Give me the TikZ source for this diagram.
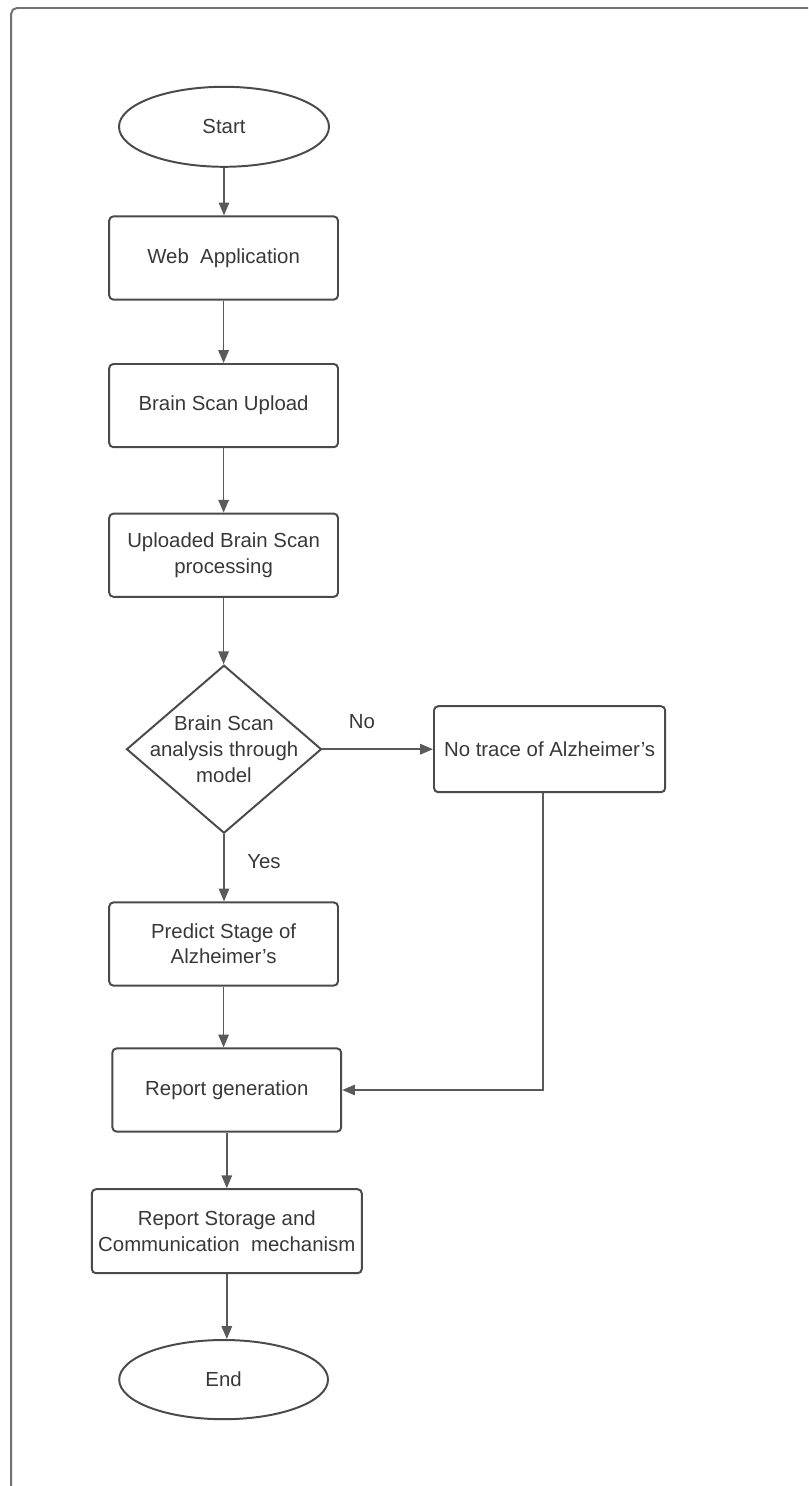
\documentclass[tikz,border=0pt]{standalone}
\usepackage{fontspec}
\setmainfont{Liberation Sans}
\usepackage{tikz}
\usetikzlibrary{shapes.geometric, arrows.meta, positioning, calc}
\definecolor{framegray}{HTML}{717171}
\definecolor{edgegray}{HTML}{4A4A4A}
\definecolor{linkgray}{HTML}{5A5A5A}
\definecolor{inkgray}{HTML}{383838}

\tikzset{
  flowbox/.style={draw=edgegray, line width=1.4pt, rounded corners=3pt, minimum width=5.72cm, minimum height=2.08cm, align=center, text=inkgray, font=\fontsize{14.5}{18}\selectfont},
  terminal/.style={ellipse, draw=edgegray, line width=1.4pt, minimum width=5.25cm, minimum height=2cm, text=inkgray, font=\fontsize{14.5}{18}\selectfont},
  decision/.style={diamond, draw=edgegray, line width=1.4pt, minimum width=4.875cm, minimum height=4.2cm, inner sep=0pt},
  decisiontext/.style={align=center, text=inkgray, font=\fontsize{14.5}{18.5}\selectfont},
  branch/.style={text=inkgray, font=\fontsize{14.5}{17}\selectfont},
  flow/.style={linkgray, line width=1.2pt, -{Triangle[length=0.32cm, width=0.26cm]}}
}

\begin{document}
\begin{tikzpicture}
  \useasboundingbox (0,0) rectangle (20.2,-37.15);

  % outer frame, runs off the right and bottom edge
  \begin{scope}
    \clip (0,0) rectangle (20.2,-37.15);
    \draw[framegray, line width=1.4pt, rounded corners=4pt] (0.28,-0.2) rectangle (21,-38);
  \end{scope}

  % main column
  \node[terminal] (start) at (5.6,-3.17) {Start};
  \node[flowbox] (webapp) at (5.59,-6.45) {Web~~Application};
  \node[flowbox] (upload) at (5.59,-10.14) {Brain Scan Upload};
  \node[flowbox] (process) at (5.59,-13.88) {Uploaded Brain Scan\\processing};
  \node[decision] (check) at (5.6,-18.73) {};
  \node[decisiontext] (checktext) at (check) {Brain Scan\\analysis through\\model};
  \node[flowbox] (predict) at (5.59,-23.6) {Predict Stage of\\Alzheimer's};
  \node[flowbox] (report) at (5.67,-27.25) {Report generation};
  \node[flowbox, minimum width=6.75cm, minimum height=2.1cm] (store) at (5.67,-30.78) {Report Storage and\\Communication~~mechanism};
  \node[terminal, minimum width=5.22cm, minimum height=1.98cm] (finish) at (5.59,-34.49) {End};

  % side branch
  \node[flowbox, minimum width=5.78cm, minimum height=2.15cm] (notrace) at (13.74,-18.73) {No trace of Alzheimer's};

  % Arrows
  \foreach \from/\to in {start/webapp, webapp/upload, upload/process, process/check, check/predict, predict/report, report/store, store/finish} {
    \draw[flow] (\from.south) -- (\from.south |- \to.north);
  }
  \draw[flow] (check.east) -- (notrace.west);
  \draw[flow] ([xshift=-0.16cm]notrace.south) |- (report.east);

  \node[branch] (nolabel) at (9.05,-18.03) {No};
  \node[branch] (yeslabel) at (6.6,-21.53) {Yes};
\end{tikzpicture}
\end{document}
